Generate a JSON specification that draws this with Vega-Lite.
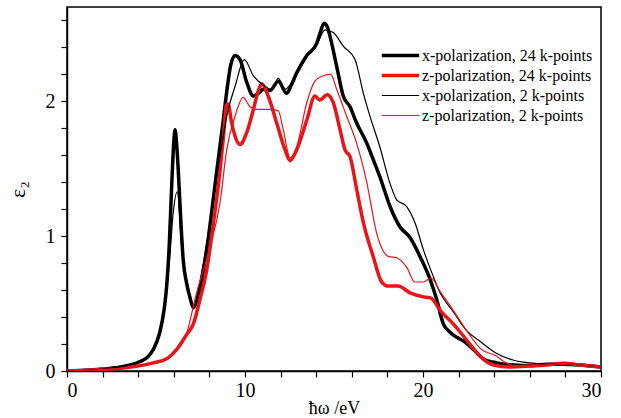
{
  "$schema": "https://vega.github.io/schema/vega-lite/v6.json",
  "width": 534,
  "height": 364,
  "autosize": "none",
  "padding": {"left": 67, "top": 7, "right": 20, "bottom": 47},
  "background": "white",
  "config": {
    "view": {"stroke": "black", "strokeWidth": 1.5},
    "font": "Liberation Serif"
  },
  "data": {"values": [
{"s":"x-polarization, 24 k-points","x":0,"y":0},{"s":"x-polarization, 24 k-points","x":1,"y":0.005},{"s":"x-polarization, 24 k-points","x":2,"y":0.015},{"s":"x-polarization, 24 k-points","x":3,"y":0.03},{"s":"x-polarization, 24 k-points","x":4,"y":0.065},{"s":"x-polarization, 24 k-points","x":4.5,"y":0.1},{"s":"x-polarization, 24 k-points","x":4.85,"y":0.16},{"s":"x-polarization, 24 k-points","x":5.2,"y":0.28},{"s":"x-polarization, 24 k-points","x":5.45,"y":0.45},{"s":"x-polarization, 24 k-points","x":5.6,"y":0.63},{"s":"x-polarization, 24 k-points","x":5.75,"y":0.95},{"s":"x-polarization, 24 k-points","x":5.88,"y":1.37},{"s":"x-polarization, 24 k-points","x":6.0,"y":1.7},{"s":"x-polarization, 24 k-points","x":6.07,"y":1.79},{"s":"x-polarization, 24 k-points","x":6.15,"y":1.7},{"s":"x-polarization, 24 k-points","x":6.25,"y":1.49},{"s":"x-polarization, 24 k-points","x":6.4,"y":1.1},{"s":"x-polarization, 24 k-points","x":6.53,"y":0.82},{"s":"x-polarization, 24 k-points","x":6.72,"y":0.65},{"s":"x-polarization, 24 k-points","x":6.9,"y":0.55},{"s":"x-polarization, 24 k-points","x":7.1,"y":0.47},{"s":"x-polarization, 24 k-points","x":7.3,"y":0.52},{"s":"x-polarization, 24 k-points","x":7.6,"y":0.7},{"s":"x-polarization, 24 k-points","x":7.85,"y":0.9},{"s":"x-polarization, 24 k-points","x":8.1,"y":1.15},{"s":"x-polarization, 24 k-points","x":8.4,"y":1.47},{"s":"x-polarization, 24 k-points","x":8.78,"y":1.86},{"s":"x-polarization, 24 k-points","x":9.0,"y":2.1},{"s":"x-polarization, 24 k-points","x":9.2,"y":2.27},{"s":"x-polarization, 24 k-points","x":9.44,"y":2.34},{"s":"x-polarization, 24 k-points","x":9.72,"y":2.31},{"s":"x-polarization, 24 k-points","x":10.1,"y":2.14},{"s":"x-polarization, 24 k-points","x":10.47,"y":2.04},{"s":"x-polarization, 24 k-points","x":10.75,"y":2.06},{"s":"x-polarization, 24 k-points","x":11.03,"y":2.09},{"s":"x-polarization, 24 k-points","x":11.4,"y":2.08},{"s":"x-polarization, 24 k-points","x":11.87,"y":2.15},{"s":"x-polarization, 24 k-points","x":12.34,"y":2.06},{"s":"x-polarization, 24 k-points","x":12.6,"y":2.12},{"s":"x-polarization, 24 k-points","x":12.9,"y":2.21},{"s":"x-polarization, 24 k-points","x":13.47,"y":2.34},{"s":"x-polarization, 24 k-points","x":14.03,"y":2.43},{"s":"x-polarization, 24 k-points","x":14.25,"y":2.52},{"s":"x-polarization, 24 k-points","x":14.44,"y":2.58},{"s":"x-polarization, 24 k-points","x":14.6,"y":2.56},{"s":"x-polarization, 24 k-points","x":14.78,"y":2.48},{"s":"x-polarization, 24 k-points","x":15.15,"y":2.26},{"s":"x-polarization, 24 k-points","x":15.52,"y":2.04},{"s":"x-polarization, 24 k-points","x":15.9,"y":1.96},{"s":"x-polarization, 24 k-points","x":16.27,"y":1.84},{"s":"x-polarization, 24 k-points","x":16.84,"y":1.69},{"s":"x-polarization, 24 k-points","x":17.2,"y":1.57},{"s":"x-polarization, 24 k-points","x":17.58,"y":1.44},{"s":"x-polarization, 24 k-points","x":18.15,"y":1.22},{"s":"x-polarization, 24 k-points","x":18.7,"y":1.07},{"s":"x-polarization, 24 k-points","x":19.27,"y":0.99},{"s":"x-polarization, 24 k-points","x":19.83,"y":0.85},{"s":"x-polarization, 24 k-points","x":20.4,"y":0.68},{"s":"x-polarization, 24 k-points","x":20.77,"y":0.53},{"s":"x-polarization, 24 k-points","x":21.14,"y":0.35},{"s":"x-polarization, 24 k-points","x":21.5,"y":0.29},{"s":"x-polarization, 24 k-points","x":21.9,"y":0.25},{"s":"x-polarization, 24 k-points","x":22.3,"y":0.22},{"s":"x-polarization, 24 k-points","x":22.83,"y":0.16},{"s":"x-polarization, 24 k-points","x":23.4,"y":0.09},{"s":"x-polarization, 24 k-points","x":24.14,"y":0.06},{"s":"x-polarization, 24 k-points","x":25.1,"y":0.045},{"s":"x-polarization, 24 k-points","x":26,"y":0.04},{"s":"x-polarization, 24 k-points","x":26.95,"y":0.05},{"s":"x-polarization, 24 k-points","x":27.9,"y":0.05},{"s":"x-polarization, 24 k-points","x":28.8,"y":0.045},{"s":"x-polarization, 24 k-points","x":30,"y":0.03},
{"s":"z-polarization, 24 k-points","x":0,"y":0},{"s":"z-polarization, 24 k-points","x":1.5,"y":0.008},{"s":"z-polarization, 24 k-points","x":3.35,"y":0.025},{"s":"z-polarization, 24 k-points","x":4.85,"y":0.06},{"s":"z-polarization, 24 k-points","x":5.6,"y":0.09},{"s":"z-polarization, 24 k-points","x":6.16,"y":0.16},{"s":"z-polarization, 24 k-points","x":6.72,"y":0.27},{"s":"z-polarization, 24 k-points","x":7.1,"y":0.35},{"s":"z-polarization, 24 k-points","x":7.47,"y":0.53},{"s":"z-polarization, 24 k-points","x":7.85,"y":0.75},{"s":"z-polarization, 24 k-points","x":8.2,"y":1.07},{"s":"z-polarization, 24 k-points","x":8.6,"y":1.49},{"s":"z-polarization, 24 k-points","x":8.8,"y":1.75},{"s":"z-polarization, 24 k-points","x":8.95,"y":1.97},{"s":"z-polarization, 24 k-points","x":9.05,"y":1.98},{"s":"z-polarization, 24 k-points","x":9.25,"y":1.84},{"s":"z-polarization, 24 k-points","x":9.5,"y":1.72},{"s":"z-polarization, 24 k-points","x":9.72,"y":1.68},{"s":"z-polarization, 24 k-points","x":10.1,"y":1.77},{"s":"z-polarization, 24 k-points","x":10.47,"y":1.94},{"s":"z-polarization, 24 k-points","x":10.75,"y":2.08},{"s":"z-polarization, 24 k-points","x":10.94,"y":2.13},{"s":"z-polarization, 24 k-points","x":11.3,"y":2.04},{"s":"z-polarization, 24 k-points","x":11.78,"y":1.84},{"s":"z-polarization, 24 k-points","x":12.25,"y":1.64},{"s":"z-polarization, 24 k-points","x":12.53,"y":1.56},{"s":"z-polarization, 24 k-points","x":12.9,"y":1.64},{"s":"z-polarization, 24 k-points","x":13.47,"y":1.86},{"s":"z-polarization, 24 k-points","x":13.93,"y":2.04},{"s":"z-polarization, 24 k-points","x":14.2,"y":2.01},{"s":"z-polarization, 24 k-points","x":14.62,"y":2.05},{"s":"z-polarization, 24 k-points","x":14.96,"y":1.99},{"s":"z-polarization, 24 k-points","x":15.34,"y":1.79},{"s":"z-polarization, 24 k-points","x":15.62,"y":1.64},{"s":"z-polarization, 24 k-points","x":15.9,"y":1.59},{"s":"z-polarization, 24 k-points","x":16.27,"y":1.35},{"s":"z-polarization, 24 k-points","x":16.65,"y":1.1},{"s":"z-polarization, 24 k-points","x":17.2,"y":0.85},{"s":"z-polarization, 24 k-points","x":17.68,"y":0.66},{"s":"z-polarization, 24 k-points","x":18.05,"y":0.63},{"s":"z-polarization, 24 k-points","x":18.6,"y":0.63},{"s":"z-polarization, 24 k-points","x":19.27,"y":0.58},{"s":"z-polarization, 24 k-points","x":20.02,"y":0.55},{"s":"z-polarization, 24 k-points","x":20.45,"y":0.54},{"s":"z-polarization, 24 k-points","x":20.96,"y":0.45},{"s":"z-polarization, 24 k-points","x":21.7,"y":0.35},{"s":"z-polarization, 24 k-points","x":22.45,"y":0.23},{"s":"z-polarization, 24 k-points","x":23.2,"y":0.11},{"s":"z-polarization, 24 k-points","x":23.95,"y":0.045},{"s":"z-polarization, 24 k-points","x":24.89,"y":0.03},{"s":"z-polarization, 24 k-points","x":26,"y":0.037},{"s":"z-polarization, 24 k-points","x":26.95,"y":0.045},{"s":"z-polarization, 24 k-points","x":27.9,"y":0.057},{"s":"z-polarization, 24 k-points","x":28.8,"y":0.045},{"s":"z-polarization, 24 k-points","x":30,"y":0.03},
{"s":"x-polarization,  2 k-points","x":0,"y":0},{"s":"x-polarization,  2 k-points","x":1,"y":0.005},{"s":"x-polarization,  2 k-points","x":2,"y":0.015},{"s":"x-polarization,  2 k-points","x":3,"y":0.03},{"s":"x-polarization,  2 k-points","x":4,"y":0.065},{"s":"x-polarization,  2 k-points","x":4.5,"y":0.1},{"s":"x-polarization,  2 k-points","x":4.85,"y":0.16},{"s":"x-polarization,  2 k-points","x":5.2,"y":0.28},{"s":"x-polarization,  2 k-points","x":5.6,"y":0.6},{"s":"x-polarization,  2 k-points","x":5.79,"y":0.87},{"s":"x-polarization,  2 k-points","x":5.95,"y":1.15},{"s":"x-polarization,  2 k-points","x":6.2,"y":1.33},{"s":"x-polarization,  2 k-points","x":6.44,"y":0.92},{"s":"x-polarization,  2 k-points","x":6.8,"y":0.63},{"s":"x-polarization,  2 k-points","x":7.1,"y":0.48},{"s":"x-polarization,  2 k-points","x":7.4,"y":0.62},{"s":"x-polarization,  2 k-points","x":7.85,"y":0.95},{"s":"x-polarization,  2 k-points","x":8.2,"y":1.25},{"s":"x-polarization,  2 k-points","x":8.6,"y":1.6},{"s":"x-polarization,  2 k-points","x":9.06,"y":1.94},{"s":"x-polarization,  2 k-points","x":9.44,"y":2.11},{"s":"x-polarization,  2 k-points","x":9.96,"y":2.31},{"s":"x-polarization,  2 k-points","x":10.47,"y":2.19},{"s":"x-polarization,  2 k-points","x":11.03,"y":2.12},{"s":"x-polarization,  2 k-points","x":11.5,"y":2.09},{"s":"x-polarization,  2 k-points","x":11.87,"y":2.17},{"s":"x-polarization,  2 k-points","x":12.25,"y":2.09},{"s":"x-polarization,  2 k-points","x":12.9,"y":2.2},{"s":"x-polarization,  2 k-points","x":13.47,"y":2.33},{"s":"x-polarization,  2 k-points","x":14.03,"y":2.42},{"s":"x-polarization,  2 k-points","x":14.5,"y":2.53},{"s":"x-polarization,  2 k-points","x":14.96,"y":2.51},{"s":"x-polarization,  2 k-points","x":15.52,"y":2.41},{"s":"x-polarization,  2 k-points","x":16.18,"y":2.31},{"s":"x-polarization,  2 k-points","x":16.65,"y":2.06},{"s":"x-polarization,  2 k-points","x":17.02,"y":1.89},{"s":"x-polarization,  2 k-points","x":17.58,"y":1.66},{"s":"x-polarization,  2 k-points","x":18.15,"y":1.39},{"s":"x-polarization,  2 k-points","x":18.52,"y":1.27},{"s":"x-polarization,  2 k-points","x":19.08,"y":1.22},{"s":"x-polarization,  2 k-points","x":19.55,"y":1.1},{"s":"x-polarization,  2 k-points","x":20.02,"y":0.9},{"s":"x-polarization,  2 k-points","x":20.58,"y":0.7},{"s":"x-polarization,  2 k-points","x":20.96,"y":0.58},{"s":"x-polarization,  2 k-points","x":21.7,"y":0.44},{"s":"x-polarization,  2 k-points","x":22.45,"y":0.3},{"s":"x-polarization,  2 k-points","x":23.2,"y":0.22},{"s":"x-polarization,  2 k-points","x":24.14,"y":0.13},{"s":"x-polarization,  2 k-points","x":25.1,"y":0.08},{"s":"x-polarization,  2 k-points","x":26,"y":0.06},{"s":"x-polarization,  2 k-points","x":26.95,"y":0.05},{"s":"x-polarization,  2 k-points","x":27.9,"y":0.057},{"s":"x-polarization,  2 k-points","x":28.8,"y":0.045},{"s":"x-polarization,  2 k-points","x":30,"y":0.03},
{"s":"z-polarization,  2 k-points","x":0,"y":0},{"s":"z-polarization,  2 k-points","x":1.5,"y":0.008},{"s":"z-polarization,  2 k-points","x":3.35,"y":0.025},{"s":"z-polarization,  2 k-points","x":4.85,"y":0.06},{"s":"z-polarization,  2 k-points","x":5.6,"y":0.09},{"s":"z-polarization,  2 k-points","x":6.16,"y":0.16},{"s":"z-polarization,  2 k-points","x":6.72,"y":0.28},{"s":"z-polarization,  2 k-points","x":7.28,"y":0.58},{"s":"z-polarization,  2 k-points","x":8.03,"y":0.92},{"s":"z-polarization,  2 k-points","x":8.6,"y":1.25},{"s":"z-polarization,  2 k-points","x":8.97,"y":1.64},{"s":"z-polarization,  2 k-points","x":9.44,"y":1.89},{"s":"z-polarization,  2 k-points","x":9.9,"y":2.03},{"s":"z-polarization,  2 k-points","x":10.28,"y":1.96},{"s":"z-polarization,  2 k-points","x":10.66,"y":1.94},{"s":"z-polarization,  2 k-points","x":11.4,"y":1.94},{"s":"z-polarization,  2 k-points","x":11.87,"y":1.93},{"s":"z-polarization,  2 k-points","x":12.15,"y":1.79},{"s":"z-polarization,  2 k-points","x":12.53,"y":1.58},{"s":"z-polarization,  2 k-points","x":12.9,"y":1.66},{"s":"z-polarization,  2 k-points","x":13.47,"y":1.99},{"s":"z-polarization,  2 k-points","x":13.93,"y":2.15},{"s":"z-polarization,  2 k-points","x":14.4,"y":2.19},{"s":"z-polarization,  2 k-points","x":14.81,"y":2.2},{"s":"z-polarization,  2 k-points","x":15.15,"y":2.09},{"s":"z-polarization,  2 k-points","x":15.71,"y":1.89},{"s":"z-polarization,  2 k-points","x":16.27,"y":1.69},{"s":"z-polarization,  2 k-points","x":16.84,"y":1.4},{"s":"z-polarization,  2 k-points","x":17.4,"y":1.02},{"s":"z-polarization,  2 k-points","x":18.05,"y":0.85},{"s":"z-polarization,  2 k-points","x":18.52,"y":0.84},{"s":"z-polarization,  2 k-points","x":19.08,"y":0.77},{"s":"z-polarization,  2 k-points","x":19.55,"y":0.66},{"s":"z-polarization,  2 k-points","x":20.02,"y":0.66},{"s":"z-polarization,  2 k-points","x":20.45,"y":0.69},{"s":"z-polarization,  2 k-points","x":20.96,"y":0.59},{"s":"z-polarization,  2 k-points","x":21.7,"y":0.45},{"s":"z-polarization,  2 k-points","x":22.45,"y":0.3},{"s":"z-polarization,  2 k-points","x":23.2,"y":0.17},{"s":"z-polarization,  2 k-points","x":24.14,"y":0.11},{"s":"z-polarization,  2 k-points","x":24.7,"y":0.057},{"s":"z-polarization,  2 k-points","x":25.45,"y":0.037},{"s":"z-polarization,  2 k-points","x":26.95,"y":0.045},{"s":"z-polarization,  2 k-points","x":27.9,"y":0.057},{"s":"z-polarization,  2 k-points","x":28.8,"y":0.045},{"s":"z-polarization,  2 k-points","x":30,"y":0.03}
  ]},
  "mark": {"type": "line", "interpolate": "monotone", "clip": true},
  "encoding": {
    "x": {
      "field": "x", "type": "quantitative",
      "scale": {"domain": [0, 30], "nice": false, "zero": false},
      "axis": {
        "title": "ħω /eV",
        "titleFont": "Liberation Serif", "titleFontSize": 18, "titleFontWeight": "normal", "titleColor": "black",
        "titleY": 42, "titleBaseline": "alphabetic",
        "values": [0,2,4,6,8,10,12,14,16,18,20,22,24,26,28,30],
        "labelExpr": "datum.value % 10 == 0 ? format(datum.value, 'd') : ''",
        "labelFont": "Liberation Serif", "labelFontSize": 20, "labelColor": "black", "labelPadding": 3,
        "grid": false, "domainColor": "black", "domainWidth": 1.5, "tickColor": "black", "tickSize": 6, "tickWidth": 1.2
      }
    },
    "y": {
      "field": "y", "type": "quantitative",
      "scale": {"domain": [0, 2.7], "nice": false},
      "axis": {
        "title": "ε₂",
        "titleFont": "Liberation Serif", "titleFontSize": 22, "titleFontWeight": "normal", "titleColor": "black", "titlePadding": 16,
        "values": [0,0.2,0.4,0.6,0.8,1,1.2,1.4,1.6,1.8,2,2.2,2.4,2.6],
        "labelExpr": "datum.value == 0 || datum.value == 1 || datum.value == 2 ? format(datum.value, 'd') : ''",
        "labelFont": "Liberation Serif", "labelFontSize": 20, "labelColor": "black", "labelPadding": 6,
        "grid": false, "domainColor": "black", "domainWidth": 1.5, "tickColor": "black", "tickSize": 6, "tickWidth": 1.2
      }
    },
    "color": {
      "field": "s", "type": "nominal",
      "scale": {
        "domain": ["x-polarization, 24 k-points", "z-polarization, 24 k-points", "x-polarization,  2 k-points", "z-polarization,  2 k-points"],
        "range": ["#000000", "#e8141a", "#000000", "#e8141a"]
      },
      "legend": {
        "title": null, "orient": "none", "legendX": 313, "legendY": 40,
        "symbolType": "stroke", "symbolSize": 1400, "clipHeight": 17,
        "labelFont": "Liberation Serif", "labelFontSize": 16, "labelColor": "black", "labelLimit": 300,
        "rowPadding": 3, "labelOffset": 1
      }
    },
    "strokeWidth": {
      "field": "s", "type": "nominal",
      "scale": {
        "type": "ordinal",
        "domain": ["x-polarization, 24 k-points", "z-polarization, 24 k-points", "x-polarization,  2 k-points", "z-polarization,  2 k-points"],
        "range": [3.5, 3.5, 1.2, 1.2]
      },
      "legend": {
        "title": null, "orient": "none", "legendX": 313, "legendY": 40,
        "symbolType": "stroke", "symbolSize": 1400, "clipHeight": 17,
        "labelFont": "Liberation Serif", "labelFontSize": 16, "labelColor": "black", "labelLimit": 300,
        "rowPadding": 3, "labelOffset": 1
      }
    }
  }
}
